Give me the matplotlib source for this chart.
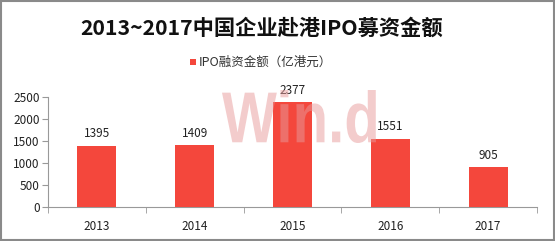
import matplotlib
matplotlib.use("Agg")
import matplotlib.pyplot as plt
from matplotlib.patches import Rectangle, PathPatch
from matplotlib.textpath import TextPath
from matplotlib.font_manager import FontProperties
from matplotlib.transforms import Affine2D

plt.rcParams['font.family'] = ['Noto Sans CJK SC', 'DejaVu Sans']

years = ["2013", "2014", "2015", "2016", "2017"]
values = [1395, 1409, 2377, 1551, 905]
yticks = [0, 500, 1000, 1500, 2000, 2500]
title = "2013~2017中国企业赴港IPO募资金额"
series_name = "IPO融资金额（亿港元）"
watermark = "Win.d"

bar_color = "#F4473C"
W, H = 555, 241

fig = plt.figure(figsize=(W/100, H/100), dpi=100)
ax = fig.add_axes([48/W, 1-207/H, (537-48)/W, 110/H])

x = list(range(len(years)))
ax.bar(x, values, width=0.4, color=bar_color, zorder=3, label=series_name)
for xi, v in zip(x, values):
    ax.text(xi, v + 120, str(v), ha='center', va='bottom', fontsize=8.5, color='#222222', zorder=6)

ax.set_xlim(-0.5, len(years) - 0.5)
ax.set_ylim(0, 2500)
ax.set_yticks(yticks)
ax.set_yticklabels([str(t) for t in yticks], fontsize=8.5, color='#222222')
ax.set_xticks(x)
ax.set_xticklabels(years, fontsize=8.5, color='#222222')
ax.tick_params(axis='x', length=0, pad=9)
ax.set_xticks([i - 0.5 for i in range(len(years) + 1)], minor=True)
ax.tick_params(axis='x', which='minor', length=4, color='#999999', direction='out')
ax.tick_params(axis='y', length=4, color='#999999', pad=2)
for s in ['top', 'right']:
    ax.spines[s].set_visible(False)
for s in ['left', 'bottom']:
    ax.spines[s].set_color('#999999')
    ax.spines[s].set_linewidth(0.8)
ax.patch.set_alpha(0)

# watermark (semi-transparent, over the bars), fitted into its box in pixel coords
tp = TextPath((0, 0), watermark, size=100, prop=FontProperties(family='Liberation Sans', weight='bold'))
ext = tp.get_extents()
x0, x1, ytop, ybot = 222, 376, 90, 143
sx = (x1 - x0) / ext.width
sy = (ybot - ytop) / ext.height
tr = (Affine2D().translate(-ext.x0, -ext.y0).scale(sx, sy).translate(x0, H - ybot)
      .scale(1/W, 1/H) + fig.transFigure)
fig.patches.append(PathPatch(tp, transform=tr, facecolor='#E89A9A', edgecolor='none',
                             alpha=0.5, zorder=5))

fig.text(262/W, 1-28/H, title, ha='center', va='center', fontsize=15.3, fontweight='bold', color='#111111')

# legend
fig.patches.append(Rectangle((190/W, 1-65/H), 6/W, 6/H, transform=fig.transFigure,
                             facecolor=bar_color, edgecolor='none'))
fig.text(199/W, 1-62/H, series_name, ha='left', va='center', fontsize=9, color='#333333')

# frame
fig.patches.append(Rectangle((0.002, 0.004), 0.996, 0.992, transform=fig.transFigure,
                             fill=False, edgecolor='#8a8a8a', linewidth=1.5))

fig.savefig("out.png", dpi=100)
